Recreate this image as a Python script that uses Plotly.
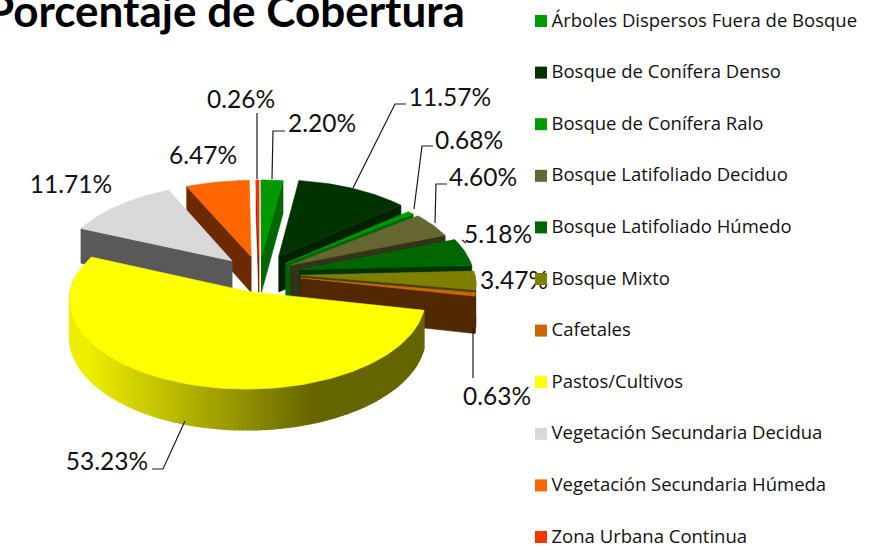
import numpy as np
import plotly.graph_objects as go

# ---- data ----
categories = ["Árboles Dispersos Fuera de Bosque", "Bosque de Conífera Denso", "Bosque de Conífera Ralo",
              "Bosque Latifoliado Deciduo", "Bosque Latifoliado Húmedo", "Bosque Mixto", "Cafetales",
              "Pastos/Cultivos", "Vegetación Secundaria Decidua", "Vegetación Secundaria Húmeda",
              "Zona Urbana Continua"]
values = [2.20, 11.57, 0.68, 4.60, 5.18, 3.47, 0.63, 53.23, 11.71, 6.47, 0.26]
title = "Porcentaje de Cobertura"

# ---- style ----
top_colors = ["#009900", "#003300", "#009900", "#666633", "#006600", "#808000", "#CC6600",
              "#FFFF00", "#D9D9D9", "#FF6600", "#FF3300"]
side_colors = ["#006600", "#002200", "#006600", "#333319", "#003300", "#404000", "#522800",
               "#808000", "#595959", "#6B2A00", "#7F1900"]
legend_colors = ["#009900", "#003300", "#009900", "#666633", "#006600", "#808000", "#CC6600",
                 "#FFFF00", "#D9D9D9", "#FF6600", "#FF3300"]
CX, CY = 259, 274          # pie centre
A, B = 174, 85.9           # ellipse radii
P = 0.087                  # perspective
D = 36.5                   # extrusion depth
explode = [0.21, 0.24, 0.20, 0.21, 0.24, 0.24, 0.24, 0.21, 0.22, 0.21, 0.21]
label_text = [f"{v:.2f}%" for v in values]
label_x = [322, 450, 469, 483, 498, 514, 497, 107, 71, 203, 241]
label_y = [126, 100, 143, 180, 237, 283, 399, 464, 187, 158, 102]
leaders = ["M285,131 L273,131 L272,179", "M406,104 L395,104 L353,188", "M433,146 L422,146 L414,209",
           "M447,184 L436,184 L435,223", "M462,240 L466,243", "M473,328 L473,378",
           "M152,469 L163,469 L185,421", "M257,113 L257,179"]


def project(u, v, depth=0.0):
    s = 1 / (1 - P * v)
    return CX + A * u * s, CY + B * v * s + depth * s


def hexmix(t):
    # light yellow on the left of the rim to dark olive on the right
    c0, c1 = np.array([0xEE, 0xEE, 0x00]), np.array([0x66, 0x66, 0x00])
    c = c0 + (c1 - c0) * np.clip(t, 0, 1)
    return "rgb(%d,%d,%d)" % tuple(c)


fig = go.Figure()


def poly(xs, ys, color, lw=0.6):
    fig.add_trace(go.Scatter(x=list(xs), y=list(ys), mode="lines", fill="toself", fillcolor=color,
                             line=dict(color=color, width=lw), hoverinfo="skip", showlegend=False))


edges = np.concatenate([[0], np.cumsum(values)]) / sum(values) * 2 * np.pi
mids = (edges[:-1] + edges[1:]) / 2
order = sorted(range(len(values)), key=lambda i: -np.cos(mids[i]))  # from the back to the front

for i in order:
    a0, a1 = edges[i], edges[i + 1]
    m = mids[i]
    eu, ev = explode[i] * np.sin(m), -explode[i] * np.cos(m)
    th = np.linspace(a0, a1, max(int((a1 - a0) * 40), 3))
    U, V = eu + np.sin(th), ev - np.cos(th)
    tx, ty = project(U, V)
    bx, by = project(U, V, D)
    ax0, ay0 = project(np.array([eu]), np.array([ev]))
    axb, ayb = project(np.array([eu]), np.array([ev]), D)
    mx, my = project(np.array([eu + np.sin(m) * 0.7]), np.array([ev - np.cos(m) * 0.7]))
    # radial walls that face the viewer
    for k in (0, -1):
        dx, dy = tx[k] - ax0[0], ty[k] - ay0[0]
        nx, ny = -dy, dx
        if ny < 0:
            nx, ny = -nx, -ny
        if (mx[0] - ax0[0]) * nx + (my[0] - ay0[0]) * ny < 0:
            poly([ax0[0], tx[k], bx[k], axb[0], ax0[0]], [ay0[0], ty[k], by[k], ayb[0], ay0[0]], side_colors[i])
    # rim
    front = np.where(V > -0.02)[0]
    if len(front) > 1:
        if categories[i] == "Pastos/Cultivos":
            th2 = np.linspace(th[front[0]], th[front[-1]], 140)
            U2, V2 = eu + np.sin(th2), ev - np.cos(th2)
            x2, y2 = project(U2, V2)
            xb2, yb2 = project(U2, V2, D)
            for j in range(len(th2) - 2, -1, -1):
                t = ((x2[j] + x2[j + 1]) / 2 - 90) / 225
                poly([x2[j], x2[j + 1], xb2[j + 1], xb2[j], x2[j]],
                     [y2[j], y2[j + 1], yb2[j + 1], yb2[j], y2[j]], hexmix(t), lw=1.5)
        else:
            f = front
            poly(list(tx[f]) + list(bx[f][::-1]) + [tx[f[0]]], list(ty[f]) + list(by[f][::-1]) + [ty[f[0]]], side_colors[i])
    # top face
    poly([ax0[0]] + list(tx) + [ax0[0]], [ay0[0]] + list(ty) + [ay0[0]], top_colors[i])

# labels
fig.add_trace(go.Scatter(x=label_x, y=label_y, mode="text", text=label_text, textposition="middle center",
                         textfont=dict(family="Lato", size=24.5, color="#111111"), hoverinfo="skip", showlegend=False))

# legend
legend_y = [21 + 51.6 * k for k in range(len(categories))]
fig.add_trace(go.Scatter(x=[541] * len(categories), y=legend_y, mode="markers",
                         marker=dict(symbol="square", size=12, color=legend_colors, line=dict(width=0)),
                         hoverinfo="skip", showlegend=False, cliponaxis=False))
fig.add_trace(go.Scatter(x=[551.5] * len(categories), y=[v + 1 for v in legend_y], mode="text", text=categories,
                         textposition="middle right",
                         textfont=dict(family="Open Sans", size=18.5, color="#111111"),
                         hoverinfo="skip", showlegend=False, cliponaxis=False))

fig.update_layout(
    width=873, height=551, autosize=False, margin=dict(l=0, r=0, t=0, b=0),
    paper_bgcolor="white", plot_bgcolor="white", showlegend=False,
    xaxis=dict(range=[0, 873], visible=False, fixedrange=True),
    yaxis=dict(range=[551, 0], visible=False, fixedrange=True),
    shapes=[dict(type="path", path=p, line=dict(color="#1a1a1a", width=1.2), xref="x", yref="y") for p in leaders],
    annotations=[dict(text=f"<b>{title}</b>", x=467, y=10, xref="x", yref="y", xanchor="right", yanchor="middle",
                      showarrow=False, font=dict(family="Lato", size=44, color="#000000"))],
)
fig.write_html("out.html", post_script="document.body.style.margin='0';document.body.style.overflow='hidden';",
               config=dict(displayModeBar=False))
